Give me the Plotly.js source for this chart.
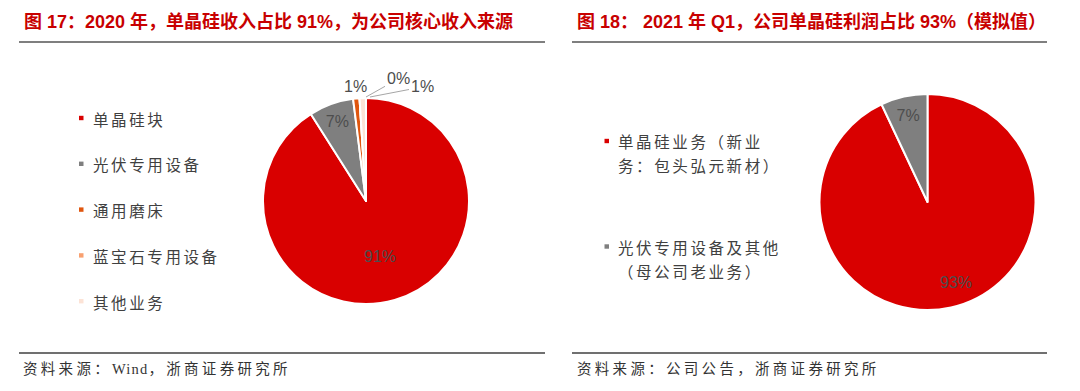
<!DOCTYPE html>
<html><head><meta charset="utf-8">
<script src="https://cdn.plot.ly/plotly-3.0.1.min.js"></script>
<style>html,body{margin:0;padding:0;background:#fff;} #chart{width:1080px;height:391px;}</style>
</head><body><div id="chart"></div>
<script>
// ---- data ----
const leftTitle = '图 17：2020 年，单晶硅收入占比 91%，为公司核心收入来源';
const rightTitle = '图 18： 2021 年 Q1，公司单晶硅利润占比 93%（模拟值）';
const leftSourceParts = ['资料来源：', 'Wind', '，浙商证券研究所'];
const rightSourceParts = ['资料来源：公司公告，浙商证券研究所'];
const leftCategories = ['单晶硅块', '光伏专用设备', '通用磨床', '蓝宝石专用设备', '其他业务'];
const leftValues = [91, 7, 1, 0, 1];
const leftColors = ['#D90000', '#7F7F7F', '#E0560E', '#F8A070', '#FCE3D6'];
const rightCategories = ['单晶硅业务（新业\n务：包头弘元新材）', '光伏专用设备及其他\n（母公司老业务）'];
const rightValues = [93, 7];
const rightColors = ['#D90000', '#7F7F7F'];

// ---- layout helpers ----
const W = 1080, H = 391;
const px = x => x / W;
const py = y => 1 - y / H;
const CJK = 'Noto Sans CJK SC';
const sans = 'Liberation Sans, Arial, ' + CJK;
const serif = 'Liberation Serif, ' + CJK;
const labelFont = {family: 'Liberation Sans Narrow, Liberation Sans, Arial', size: 16, color: '#4D4D4D'};
const sp = (t, s) => '<span style="letter-spacing:' + s + 'px">' + t + '</span>';
const pctText = v => Math.round(v) + '%';
const srcText = parts => parts.map(p => sp(p, /^[A-Za-z]+$/.test(p) ? 1.2 : 3.3)).join('');

function pieDomain(cx, cy, r) {
  return {x: [px(cx - r), px(cx + r)], y: [py(cy + r), py(cy - r)]};
}

const traces = [
  {
    type: 'pie', labels: leftCategories, values: leftValues, sort: false,
    direction: 'clockwise', rotation: 0,
    marker: {colors: leftColors, line: {color: '#FFFFFF', width: 2}},
    texttemplate: '%{percent:.0%}',
    textposition: ['none', 'inside', 'none', 'none', 'none'],
    insidetextorientation: 'horizontal',
    textfont: labelFont, showlegend: false, hoverinfo: 'label+percent',
    domain: pieDomain(366, 201, 103)
  },
  {
    type: 'pie', labels: rightCategories.map(c => c.replace('\n', '')), values: rightValues, sort: false,
    direction: 'clockwise', rotation: 0,
    marker: {colors: rightColors, line: {color: '#FFFFFF', width: 2}},
    texttemplate: '%{percent:.0%}',
    textposition: ['none', 'inside'],
    insidetextorientation: 'horizontal',
    textfont: labelFont, showlegend: false, hoverinfo: 'label+percent',
    domain: pieDomain(927.5, 202, 108)
  }
];

const annotations = [];
const shapes = [];

// titles
annotations.push({text: '<b>' + leftTitle + '</b>', x: px(22), y: py(21.5), xanchor: 'left', yanchor: 'middle',
  xref: 'paper', yref: 'paper', showarrow: false, font: {family: sans, size: 18, color: '#C80000'}});
annotations.push({text: '<b>' + rightTitle + '</b>', x: px(575), y: py(21.5), xanchor: 'left', yanchor: 'middle',
  xref: 'paper', yref: 'paper', showarrow: false, font: {family: sans, size: 18, color: '#C80000'}});
// sources
annotations.push({text: srcText(leftSourceParts), x: px(21), y: py(369), xanchor: 'left', yanchor: 'middle',
  xref: 'paper', yref: 'paper', showarrow: false, font: {family: serif, size: 14.5, color: '#333333'}});
annotations.push({text: srcText(rightSourceParts), x: px(575), y: py(369), xanchor: 'left', yanchor: 'middle',
  xref: 'paper', yref: 'paper', showarrow: false, font: {family: serif, size: 14.5, color: '#333333'}});

// rule lines
[[19, 545], [572, 1047]].forEach(([a, b]) => {
  shapes.push({type: 'line', xref: 'paper', yref: 'paper', x0: px(a), x1: px(b), y0: py(42), y1: py(42),
    line: {color: '#7F7F7F', width: 2}});
  shapes.push({type: 'line', xref: 'paper', yref: 'paper', x0: px(a), x1: px(b), y0: py(353), y1: py(353),
    line: {color: '#404040', width: 1.5}});
});

// left legend
const legFont = {family: CJK, size: 15.5, color: '#404040'};
leftCategories.forEach((c, i) => {
  const y = 118 + i * 45.8;
  shapes.push({type: 'rect', xref: 'paper', yref: 'paper', x0: px(79), x1: px(83.5), y0: py(y + 2.2), y1: py(y - 2.2),
    fillcolor: leftColors[i], line: {width: 0}});
  annotations.push({text: sp(c, 2.6), x: px(90.5), y: py(y + 0.5), xanchor: 'left', yanchor: 'middle',
    xref: 'paper', yref: 'paper', showarrow: false, font: legFont});
});
// right legend
rightCategories.forEach((c, i) => {
  const y = 141 + i * 105.5;
  shapes.push({type: 'rect', xref: 'paper', yref: 'paper', x0: px(604.5), x1: px(609), y0: py(y + 2.2), y1: py(y - 2.2),
    fillcolor: rightColors[i], line: {width: 0}});
  c.split('\n').forEach((line, j) => {
    annotations.push({text: sp(line, 2.6), x: px(616), y: py(y + j * 24), xanchor: 'left', yanchor: 'middle',
      xref: 'paper', yref: 'paper', showarrow: false, font: legFont});
  });
});

// main slice labels
annotations.push({text: pctText(leftValues[0]), x: px(380), y: py(256), xanchor: 'center', yanchor: 'middle',
  xref: 'paper', yref: 'paper', showarrow: false, font: labelFont});
annotations.push({text: pctText(rightValues[0]), x: px(956), y: py(282), xanchor: 'center', yanchor: 'middle',
  xref: 'paper', yref: 'paper', showarrow: false, font: labelFont});

// small slice labels of left pie (outside)
annotations.push({text: pctText(leftValues[2]), x: px(355), y: py(86), xanchor: 'center', yanchor: 'middle',
  xref: 'paper', yref: 'paper', showarrow: false, font: labelFont});
annotations.push({text: pctText(leftValues[3]), x: px(366), y: py(97), ax: 32, ay: -18,
  xref: 'paper', yref: 'paper', showarrow: true, arrowhead: 0, arrowwidth: 1, arrowcolor: '#A6A6A6',
  standoff: 0, font: labelFont});
annotations.push({text: pctText(leftValues[4]), x: px(370), y: py(97), ax: 52, ay: -10,
  xref: 'paper', yref: 'paper', showarrow: true, arrowhead: 0, arrowwidth: 1, arrowcolor: '#A6A6A6',
  standoff: 0, font: labelFont});

const layout = {
  width: W, height: H, margin: {l: 0, r: 0, t: 0, b: 0},
  paper_bgcolor: '#FFFFFF', plot_bgcolor: '#FFFFFF',
  showlegend: false, annotations: annotations, shapes: shapes,
  font: {family: sans}
};
Plotly.newPlot('chart', traces, layout, {displayModeBar: false, staticPlot: true});
</script>
</body></html>
